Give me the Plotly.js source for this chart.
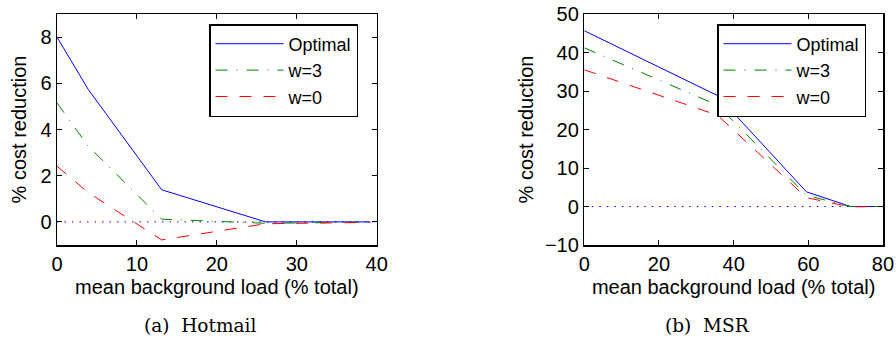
<!DOCTYPE html>
<html>
<head>
<meta charset="utf-8">
<script src="https://cdn.plot.ly/plotly-3.0.1.min.js"></script>
<style>
  html, body { margin: 0; padding: 0; background: #fff; }
  #chart { width: 896px; height: 339px; }
</style>
</head>
<body>
<div id="chart"></div>
<script>
// Hotmail panel: mean background load (% total) vs % cost reduction
const hotmailLoad = [0, 3.9, 13.1, 26.1, 39.2];
const hotmailOptimal = [8.0, 5.74, 1.39, 0, 0];
const hotmailW3 = [5.15, 3.28, 0.12, -0.06, -0.01];
const hotmailW0 = [2.41, 1.27, -0.78, -0.08, -0.02];
const hotmailZeroX = [0, 40];

// MSR panel
const msrLoad = [0, 35.7, 59.5, 71.3, 78.6];
const msrOptimal = [45.65, 28.8, 3.8, 0, 0];
const msrW3 = [41.2, 26.3, 2.9, 0, 0];
const msrW0 = [35.5, 23.7, 2.3, -0.1, 0];
const msrZeroX = [0, 80];

const zeroY = [0, 0];
const seriesNames = ['Optimal', 'w=3', 'w=0'];
const captions = ['(a)\u00a0\u00a0Hotmail', '(b)\u00a0\u00a0MSR'];
const xTitle = 'mean background load (% total)';
const yTitle = '% cost reduction';

const SANS = 'Liberation Sans, Arial, Helvetica, sans-serif';
const SERIF = 'DejaVu Serif, serif';
const FS = 20;

const styles = [
  {color: '#0000ff', dash: 'solid'},
  {color: '#008000', dash: '12px,9px,1px,9px'},
  {color: '#ff0000', dash: '12px,12px'}
];

function panel(xs, ysList, zeroX, xa, ya, legendId) {
  const out = [{
    x: zeroX, y: zeroY, xaxis: xa, yaxis: ya, mode: 'lines',
    line: {color: '#0000ff', width: 1, dash: '1.5px,6px'},
    showlegend: false, hoverinfo: 'skip'
  }];
  ysList.forEach((ys, i) => {
    out.push({
      x: xs, y: ys, xaxis: xa, yaxis: ya, mode: 'lines',
      name: seriesNames[i], legend: legendId,
      line: {color: styles[i].color, width: 1, dash: styles[i].dash}
    });
  });
  return out;
}

const data = [
  ...panel(hotmailLoad, [hotmailOptimal, hotmailW3, hotmailW0], hotmailZeroX, 'x', 'y', 'legend'),
  ...panel(msrLoad, [msrOptimal, msrW3, msrW0], msrZeroX, 'x2', 'y2', 'legend2')
];

function axisBase(extra) {
  return Object.assign({
    showline: true, linecolor: '#000', linewidth: 1.5, mirror: 'allticks',
    ticks: 'inside', ticklen: 5, tickwidth: 1, tickcolor: '#000',
    showgrid: false, zeroline: false, fixedrange: true,
    tickfont: {family: SANS, size: FS, color: '#000'}
  }, extra);
}

const legendBase = {
  bgcolor: '#fff', bordercolor: '#000', borderwidth: 1.5,
  font: {family: SANS, size: 18, color: '#000'},
  xanchor: 'left', yanchor: 'top', itemwidth: 68,
  tracegroupgap: 0, xref: 'paper', yref: 'paper'
};

// plot area spans x 57..883 px and y 14..245 px
const px = v => (v - 57) / 826;
const py = v => (245 - v) / 231;

const layout = {
  width: 896, height: 339,
  margin: {l: 57, r: 13, t: 14, b: 94},
  paper_bgcolor: '#fff', plot_bgcolor: '#fff',
  showlegend: true,
  xaxis: axisBase({domain: [0, 0.387], range: [0, 40], dtick: 10, tick0: 0, anchor: 'y',
    title: {text: xTitle, font: {family: SANS, size: FS, color: '#000'}, standoff: 6}}),
  yaxis: axisBase({domain: [0, 1], range: [-1, 9], dtick: 2, tick0: 0, anchor: 'x',
    title: {text: yTitle, font: {family: SANS, size: FS, color: '#000'}, standoff: 8}}),
  xaxis2: axisBase({domain: [0.6384, 1], range: [0, 80], dtick: 20, tick0: 0, anchor: 'y2',
    title: {text: xTitle, font: {family: SANS, size: FS, color: '#000'}, standoff: 6}}),
  yaxis2: axisBase({domain: [0, 1], range: [-10, 50], dtick: 10, tick0: 0, anchor: 'x2',
    title: {text: yTitle, font: {family: SANS, size: FS, color: '#000'}, standoff: 6}}),
  legend: Object.assign({x: px(209), y: py(24)}, legendBase),
  legend2: Object.assign({x: px(717), y: py(24)}, legendBase),
  annotations: [
    {text: captions[0], xref: 'paper', yref: 'paper', x: px(200), y: py(325),
     xanchor: 'center', yanchor: 'middle', showarrow: false,
     font: {family: SERIF, size: 18.5, color: '#000'}},
    {text: captions[1], xref: 'paper', yref: 'paper', x: px(707), y: py(325),
     xanchor: 'center', yanchor: 'middle', showarrow: false,
     font: {family: SERIF, size: 18.5, color: '#000'}}
  ]
};

Plotly.newPlot('chart', data, layout, {displayModeBar: false, staticPlot: true});
</script>
</body>
</html>
